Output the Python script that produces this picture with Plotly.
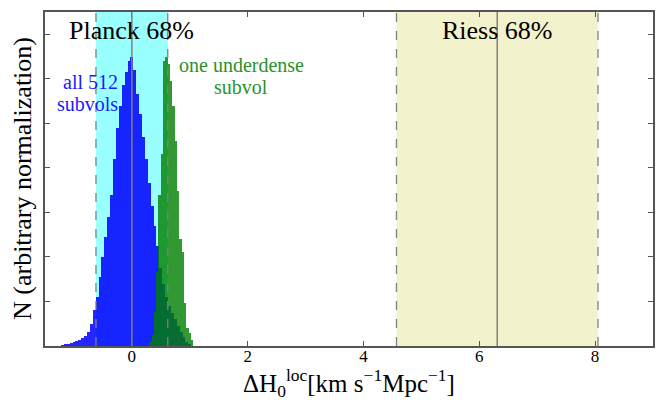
import plotly.graph_objects as go

# Histogramm aller 512 Subvolumina (Bin-Mitten und Höhen)
blue_x = [-1.20, -1.15, -1.10, -1.05, -1.00, -0.95, -0.90, -0.85, -0.80, -0.75,
          -0.70, -0.65, -0.60, -0.55, -0.50, -0.45, -0.40, -0.35, -0.30, -0.25,
          -0.20, -0.15, -0.10, -0.05, 0.00, 0.05, 0.10, 0.15, 0.20, 0.25,
          0.30, 0.35, 0.40, 0.45, 0.50, 0.55, 0.60, 0.65, 0.70, 0.75,
          0.80, 0.85, 0.90, 0.95, 1.00]
blue_n = [0.02, 0.04, 0.05, 0.07, 0.09, 0.11, 0.13, 0.17, 0.23, 0.32,
          0.50, 0.80, 1.10, 1.55, 2.00, 2.45, 2.90, 3.40, 4.20, 4.90,
          5.40, 5.85, 6.15, 6.40, 6.48, 6.20, 5.65, 5.20, 4.70, 4.20,
          3.65, 3.15, 2.70, 2.25, 1.75, 1.40, 1.10, 0.90, 0.75, 0.60,
          0.45, 0.32, 0.20, 0.10, 0.04]

# Histogramm des unterdichten Subvolumens
green_x = [0.32, 0.36, 0.40, 0.44, 0.48, 0.52, 0.56, 0.60, 0.64, 0.68,
           0.72, 0.76, 0.80, 0.84, 0.88, 0.92, 0.96, 1.00, 1.04]
green_n = [0.10, 0.25, 0.77, 1.66, 3.38, 4.31, 6.40, 6.48, 6.33, 5.95,
           5.40, 4.60, 3.49, 2.40, 2.10, 0.96, 0.40, 0.30, 0.13]

# 68%-Bereiche: [unten, Mitte, oben]
planck = [-0.62, 0.0, 0.62]
riess = [4.57, 6.31, 8.05]

x_ticks = [0, 2, 4, 6, 8]
y_ticks = [0, 1, 2, 3, 4, 5, 6, 7]

serif = "Liberation Serif"

fig = go.Figure()
fig.add_trace(go.Bar(x=blue_x, y=blue_n, width=0.05, marker_color="#0000ff",
                     marker_line_width=0, opacity=0.85))
fig.add_trace(go.Bar(x=green_x, y=green_n, width=0.04, marker_color="#008000",
                     marker_line_width=0, opacity=0.8))

# farbige Bänder hinter den Histogrammen
for band, col in [(planck, "rgba(0,255,255,0.4)"), (riess, "rgba(191,191,0,0.2)")]:
    fig.add_shape(type="rect", xref="x", yref="paper", x0=band[0], x1=band[2], y0=0, y1=1,
                  fillcolor=col, line_width=0, layer="below")
    for v in (band[0], band[2]):
        fig.add_shape(type="line", xref="x", yref="paper", x0=v, x1=v, y0=0, y1=1,
                      line=dict(color="grey", width=1.3, dash="dash"), layer="above")
    fig.add_shape(type="line", xref="x", yref="paper", x0=band[1], x1=band[1], y0=0, y1=1,
                  line=dict(color="grey", width=1.5), layer="above")


def label(x, y, text, size, color, xanchor="center"):
    fig.add_annotation(x=x, y=y, xref="x", yref="paper", text=text, showarrow=False,
                       xanchor=xanchor, yanchor="middle",
                       font=dict(family=serif, size=size, color=color))


label(planck[1], 0.946, "Planck 68%", 26, "black")
label(riess[1], 0.946, "Riess 68%", 26, "black")
label(-0.2, 0.79, "all 512", 20, "#1a1aff", "right")
label(-0.2, 0.724, "subvols", 20, "#1a1aff", "right")
label(1.89, 0.84, "one underdense", 20, "#2a922a")
label(1.89, 0.774, "subvol", 20, "#2a922a")

# Achsentitel als Annotationen, damit der Plotbereich fest bleibt
fig.add_annotation(x=0.5, y=0, xref="paper", yref="paper", yshift=-37,
                   xanchor="center", yanchor="middle",
                   text="ΔH<sub>0</sub><sup>loc</sup>[km s<sup>−1</sup>Mpc<sup>−1</sup>]",
                   showarrow=False, font=dict(family=serif, size=25, color="black"))
fig.add_annotation(x=0, y=0.5, xref="paper", yref="paper", xshift=-23, textangle=-90,
                   xanchor="center", yanchor="middle",
                   text="N (arbitrary normalization)",
                   showarrow=False, font=dict(family=serif, size=26, color="black"))

# Seite hat 8px Rand im Browser -> Figur etwas kleiner
fig.update_layout(
    width=657, height=403, margin=dict(l=37, r=12, t=4, b=65, autoexpand=False),
    plot_bgcolor="white", paper_bgcolor="white",
    barmode="overlay", bargap=0, showlegend=False,
    font=dict(family=serif, color="black"),
)
fig.update_xaxes(range=[-1.5, 9], tickvals=x_ticks, ticks="inside", ticklen=5,
                 tickcolor="#555", showline=True, linecolor="#555", linewidth=1.5,
                 mirror="ticks", showgrid=False, zeroline=False, automargin=False,
                 ticklabelstandoff=-6, tickfont=dict(size=17))
fig.update_yaxes(range=[0, 7.5], tickvals=y_ticks, ticks="inside", ticklen=5,
                 tickcolor="#555", showticklabels=False, showline=True, linecolor="#555",
                 linewidth=1.5, mirror="ticks", showgrid=False, zeroline=False,
                 automargin=False)

fig.write_html("out.html")
